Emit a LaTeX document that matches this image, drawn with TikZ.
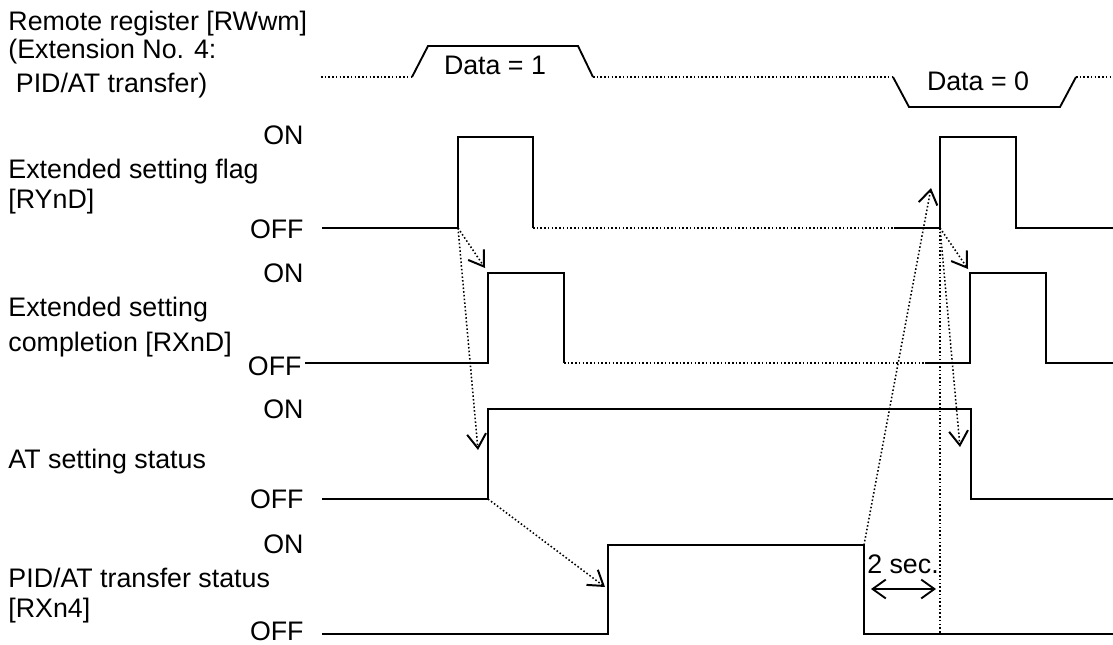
\documentclass[tikz,border=0pt]{standalone}
\usepackage{fontspec}
\setmainfont{Liberation Sans}
\usetikzlibrary{arrows.meta}

\begin{document}
\begin{tikzpicture}[
    x=0.016cm, y=-0.016cm,
    font=\fontsize{12.2}{12.6}\selectfont,
    signame/.style={anchor=base west, align=left, inner sep=0pt},
    onoff/.style={anchor=base east, inner sep=0pt},
    datatext/.style={anchor=base, inner sep=0pt},
    signal/.style={line width=0.85pt},
    idle/.style={line width=0.7pt, densely dotted},
    cause/.style={-{Straight Barb[length=6.5pt, width=8.6pt, line width=0.9pt]}, line width=0.7pt, densely dotted},
    period/.style={{Straight Barb[length=6pt, width=8.6pt]}-{Straight Barb[length=6pt, width=8.6pt]}, line width=0.85pt}
]
    \useasboundingbox (0,0) rectangle (1113,644);

    % signal names (placed by their last line)
    \node[signame] (regname) at (8,93) {Remote register [RWwm]\\(Extension No. 4:\\[3.3pt]\ PID/AT transfer)};
    \node[signame] (flagname) at (8,208) {Extended setting flag\\[1pt][RYnD]};
    \node[signame] (compname) at (8,351) {Extended setting\\[3.3pt]completion [RXnD]};
    \node[signame] (atname) at (8,468) {AT setting status};
    \node[signame] (pidname) at (8,617) {PID/AT transfer status\\[1pt][RXn4]};

    % ON / OFF levels
    \node[onoff] (flagon) at (304,145) {ON};
    \node[onoff] (flagoff) at (304,238) {OFF};
    \node[onoff] (compon) at (304,282) {ON};
    \node[onoff] (compoff) at (302,375) {OFF};
    \node[onoff] (aton) at (304,418) {ON};
    \node[onoff] (atoff) at (304,508) {OFF};
    \node[onoff] (pidon) at (304,553) {ON};
    \node[onoff] (pidoff) at (304,640) {OFF};

    % remote register
    \draw[idle] (321,77) -- (412,77);
    \draw[signal] (412,77) -- (428,46) -- (578,46) -- (593,77);
    \draw[idle] (593,77) -- (893,77);
    \draw[signal] (893,77) -- (909,107) -- (1060,107) -- (1076,77);
    \draw[idle] (1076,77) -- (1113,77);
    \node[datatext] (data1) at (495,75) {Data = 1};
    \node[datatext] (data0) at (978,91) {Data = 0};

    % extended setting flag
    \draw[signal] (322,228) -- (458,228) coordinate (flagup1) -- (458,137) -- (533,137) -- (533,228);
    \draw[idle] (533,228) -- (894,228);
    \draw[signal] (894,228) -- (940,228) coordinate (flagup2) -- (940,137) -- (1016,137) -- (1016,228) -- (1113,228);

    % extended setting completion
    \draw[signal] (305,363) -- (488,363) -- (488,273) -- (564,273) -- (564,363);
    \draw[idle] (564,363) -- (925,363);
    \draw[signal] (925,363) -- (970,363) -- (970,273) -- (1046,273) -- (1046,363) -- (1113,363);

    % AT setting status
    \draw[signal] (322,499) -- (488,499) coordinate (atup) -- (488,409) -- (971,409) -- (971,499) -- (1113,499);

    % PID/AT transfer status
    \draw[signal] (322,634) -- (608,634) -- (608,545) -- (864,545) coordinate (piddown) -- (864,634) -- (1113,634);

    % arrow ends
    \coordinate (comptip1) at (485,268);
    \coordinate (attip1) at (478,450);
    \coordinate (pidtip) at (605,587);
    \coordinate (flagtip2) at (931,188);
    \coordinate (comptip2) at (968,269);
    \coordinate (attip2) at (960,447);
    \coordinate (timerend) at (940,634);
    \coordinate (spanl) at (871,589);
    \coordinate (spanr) at (936,589);

    % causes
    \draw[cause] (flagup1) -- (comptip1);
    \draw[cause] (flagup1) -- (attip1);
    \draw[cause] (atup) -- (pidtip);
    \draw[cause] (piddown) -- (flagtip2);
    \draw[cause] (flagup2) -- (comptip2);
    \draw[cause] (flagup2) -- (attip2);
    \draw[idle] (flagup2) -- (timerend);

    % 2 sec.
    \draw[period] (spanl) -- (spanr);
    \node[datatext] (twosec) at (903,573) {2 sec.};
\end{tikzpicture}
\end{document}
